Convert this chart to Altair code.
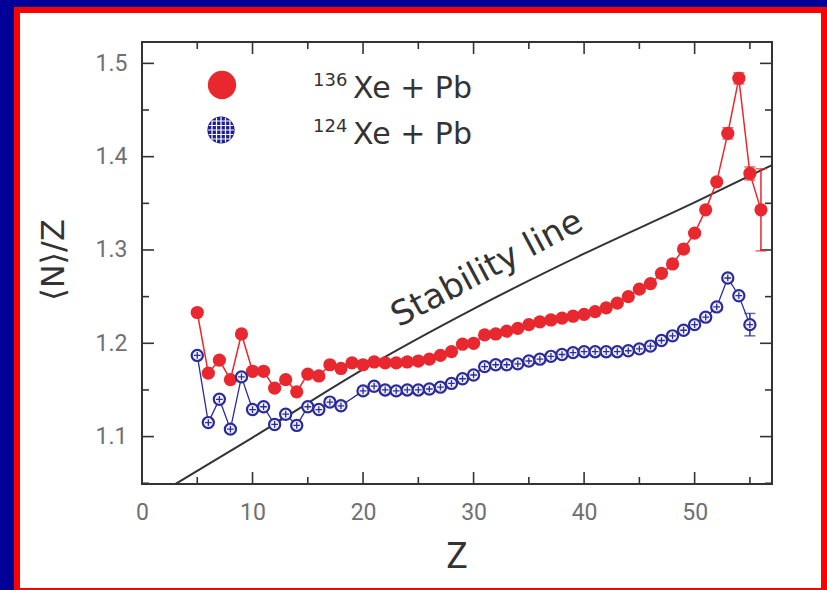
import altair as alt
import pandas as pd

# ---------------- data ----------------
z_136 = list(range(5, 57))
nz_136 = [1.233, 1.168, 1.182, 1.161, 1.210, 1.170, 1.170, 1.152, 1.161, 1.148,
          1.167, 1.165, 1.177, 1.173, 1.179, 1.177, 1.180, 1.179, 1.179, 1.180,
          1.181, 1.183, 1.187, 1.191, 1.199, 1.200, 1.209, 1.210, 1.213, 1.216,
          1.220, 1.223, 1.225, 1.227, 1.229, 1.231, 1.234, 1.238, 1.243, 1.250,
          1.258, 1.264, 1.275, 1.285, 1.301, 1.318, 1.343, 1.373, 1.425, 1.484,
          1.382, 1.343]

z_124 = list(range(5, 19)) + list(range(20, 56))
nz_124 = [1.187, 1.115, 1.140, 1.108, 1.164, 1.129, 1.132, 1.113, 1.124, 1.112,
          1.132, 1.129, 1.137, 1.133,
          1.149, 1.154, 1.150, 1.149, 1.150, 1.150, 1.151, 1.153, 1.157, 1.162,
          1.166, 1.175, 1.177, 1.177, 1.178, 1.181, 1.183, 1.186, 1.188, 1.190,
          1.191, 1.191, 1.191, 1.191, 1.192, 1.194, 1.197, 1.203, 1.208, 1.214,
          1.220, 1.228, 1.239, 1.270, 1.251, 1.220]

# error bars (only the visible ones)
err_z_136 = [53, 54, 55, 56]
err_v_136 = [1.425, 1.484, 1.382, 1.343]
err_e_136 = [0.006, 0.006, 0.007, 0.044]
err_z_124 = [55]
err_v_124 = [1.220]
err_e_124 = [0.012]

# line of beta stability
stab_z = [3, 10, 20, 30, 40, 50, 57]
stab_nz = [1.049, 1.099, 1.172, 1.237, 1.296, 1.351, 1.391]

x_major = [0, 10, 20, 30, 40, 50]
x_minor = [5, 15, 25, 35, 45, 55]
y_major = [1.1, 1.2, 1.3, 1.4, 1.5]
y_minor = [1.05, 1.15, 1.25, 1.35, 1.45]

# ---------------- styling ----------------
W, H = 630, 442
RED = "#e8282e"
NAVY = "#2b2b9b"
INK = "#333333"
LABEL = "#707070"

xs = alt.Scale(domain=[0, 57], nice=False, zero=False)
ys = alt.Scale(domain=[1.0492, 1.5229], nice=False, zero=False)

# label-only axes drawn on top; the inward ticks are drawn as rules below
XAXIS = alt.Axis(values=x_major, ticks=False, domain=False, grid=False,
                 title=None, labelFont="Roboto", labelFontSize=23,
                 labelColor=LABEL, labelPadding=17, tickSize=0, zindex=1,
                 labelFlush=False)
YAXIS = alt.Axis(values=y_major, format=".1f", ticks=False, domain=False,
                 grid=False, title=None, labelFont="Roboto", labelFontSize=23,
                 labelColor=LABEL, labelPadding=15, tickSize=0, zindex=1,
                 labelFlush=False)

one = pd.DataFrame({"k": [0]})

df136 = pd.DataFrame({"Z": z_136, "nz": nz_136})
df124 = pd.DataFrame({"Z": z_124, "nz": nz_124})
e136 = pd.DataFrame({"Z": err_z_136, "nz": err_v_136, "e": err_e_136})
e124 = pd.DataFrame({"Z": err_z_124, "nz": err_v_124, "e": err_e_124})
dstab = pd.DataFrame({"Z": stab_z, "nz": stab_nz})


def X(field="Z:Q"):
    return alt.X(field, scale=xs, axis=XAXIS)


def Y(field="nz:Q"):
    return alt.Y(field, scale=ys, axis=YAXIS)


# page frame: red border around white sheet
frame_red = alt.Chart(one).mark_rect(color="#ff0000").encode(
    x=alt.value(-128), x2=alt.value(700), y=alt.value(-35), y2=alt.value(560))
frame_white = alt.Chart(one).mark_rect(color="#ffffff").encode(
    x=alt.value(-122), x2=alt.value(679), y=alt.value(-29), y2=alt.value(546))


# inward ticks on all four sides
def xticks(vals, length):
    d = pd.DataFrame({"v": vals})
    bottom = alt.Chart(d).mark_rule(color=INK, strokeWidth=1.6).encode(
        x=X("v:Q"), y=alt.value(H), y2=alt.value(H - length))
    top = alt.Chart(d).mark_rule(color=INK, strokeWidth=1.6).encode(
        x=X("v:Q"), y=alt.value(0), y2=alt.value(length))
    return [bottom, top]


def yticks(vals, length):
    d = pd.DataFrame({"v": vals})
    left = alt.Chart(d).mark_rule(color=INK, strokeWidth=1.6).encode(
        y=Y("v:Q"), x=alt.value(0), x2=alt.value(length))
    right = alt.Chart(d).mark_rule(color=INK, strokeWidth=1.6).encode(
        y=Y("v:Q"), x=alt.value(W), x2=alt.value(W - length))
    return [left, right]


tick_layers = (xticks(x_major, 12) + xticks(x_minor, 7)
               + yticks(y_major, 12) + yticks(y_minor, 7))

plot_frame = alt.Chart(one).mark_rect(
    filled=False, stroke=INK, strokeWidth=2).encode(
    x=alt.value(0), x2=alt.value(W), y=alt.value(0), y2=alt.value(H))

stability = alt.Chart(dstab).mark_line(
    color=INK, strokeWidth=2, interpolate="monotone", clip=True).encode(
    x=X(), y=Y())

# 136Xe + Pb
red_line = alt.Chart(df136).mark_line(color=RED, strokeWidth=1.5).encode(x=X(), y=Y())
red_err = alt.Chart(e136).transform_calculate(
    lo="datum.nz - datum.e", hi="datum.nz + datum.e")
red_bar = red_err.mark_rule(color=RED, strokeWidth=1.5).encode(
    x=X(), y=Y("lo:Q"), y2="hi:Q")
red_cap_lo = red_err.mark_tick(color=RED, orient="horizontal", size=11, thickness=1.5).encode(
    x=X(), y=Y("lo:Q"))
red_cap_hi = red_err.mark_tick(color=RED, orient="horizontal", size=11, thickness=1.5).encode(
    x=X(), y=Y("hi:Q"))
red_pts = alt.Chart(df136).mark_point(
    shape="circle", filled=True, color=RED, opacity=1, size=175).encode(x=X(), y=Y())

# 124Xe + Pb
blue_line = alt.Chart(df124).mark_line(color=NAVY, strokeWidth=1.3).encode(x=X(), y=Y())
blue_err = alt.Chart(e124).transform_calculate(
    lo="datum.nz - datum.e", hi="datum.nz + datum.e")
blue_bar = blue_err.mark_rule(color=NAVY, strokeWidth=1.5).encode(
    x=X(), y=Y("lo:Q"), y2="hi:Q")
blue_cap_lo = blue_err.mark_tick(color=NAVY, orient="horizontal", size=11, thickness=1.5).encode(
    x=X(), y=Y("lo:Q"))
blue_cap_hi = blue_err.mark_tick(color=NAVY, orient="horizontal", size=11, thickness=1.5).encode(
    x=X(), y=Y("hi:Q"))
blue_pts = alt.Chart(df124).mark_point(
    shape="circle", filled=True, fill="#f2f2fc", stroke=NAVY, strokeWidth=2.2,
    opacity=1, fillOpacity=1, size=125).encode(x=X(), y=Y())
CROSS = "M-0.6,0H0.6M0,-0.6V0.6"
blue_cross = alt.Chart(df124).mark_point(
    shape=CROSS, filled=False, stroke=NAVY, strokeWidth=1.3, opacity=1,
    size=125).encode(x=X(), y=Y())

# legend
GRID = ("M-0.66,-0.71V0.71M-0.33,-0.9V0.9M0,-0.95V0.95M0.33,-0.9V0.9M0.66,-0.71V0.71"
        "M-0.71,-0.66H0.71M-0.9,-0.33H0.9M-0.95,0H0.95M-0.9,0.33H0.9M-0.71,0.66H0.71")
leg_red = alt.Chart(one).mark_point(
    shape="circle", filled=True, color=RED, opacity=1, size=800).encode(
    x=alt.value(80), y=alt.value(43))
leg_blue = alt.Chart(one).mark_point(
    shape="circle", filled=True, color="#1e1e90", opacity=1, size=740).encode(
    x=alt.value(79), y=alt.value(88))
leg_grid = alt.Chart(one).mark_point(
    shape=GRID, filled=False, stroke="#ffffff", strokeWidth=1.2, opacity=1,
    size=740).encode(x=alt.value(79), y=alt.value(88))


def label(text, x, y, size, font="DejaVu Sans", color=INK, align="left",
          baseline="alphabetic", angle=0):
    kw = dict(text=text, font=font, fontSize=size, color=color, align=align,
              baseline=baseline)
    if angle:
        kw["angle"] = angle
    return alt.Chart(one).mark_text(**kw).encode(x=alt.value(x), y=alt.value(y))


texts = [
    label("136", 171, 44, 18),
    label("Xe + Pb", 211, 56, 30),
    label("124", 171, 90, 18),
    label("Xe + Pb", 211, 102, 30),
    label("Stability line", 350, 236, 34, align="center", angle=332),
    label("Z", 315, 515, 36, font="Roboto", align="center", baseline="middle"),
    label("⟨N⟩/Z", -88, 218, 32, align="center", baseline="middle", angle=270),
]

chart = alt.layer(
    frame_red, frame_white, *tick_layers, plot_frame,
    stability,
    red_line, red_bar, red_cap_lo, red_cap_hi, red_pts,
    blue_line, blue_bar, blue_cap_lo, blue_cap_hi, blue_pts, blue_cross,
    leg_red, leg_blue, leg_grid, *texts,
).properties(
    width=W, height=H,
    autosize=alt.AutoSizeParams(type="none"),
    padding={"left": 142, "top": 42, "right": 55, "bottom": 106},
    background="#000099",
).configure_view(stroke=None)

chart.save("out.html", embed_options={"renderer": "svg", "actions": False})
